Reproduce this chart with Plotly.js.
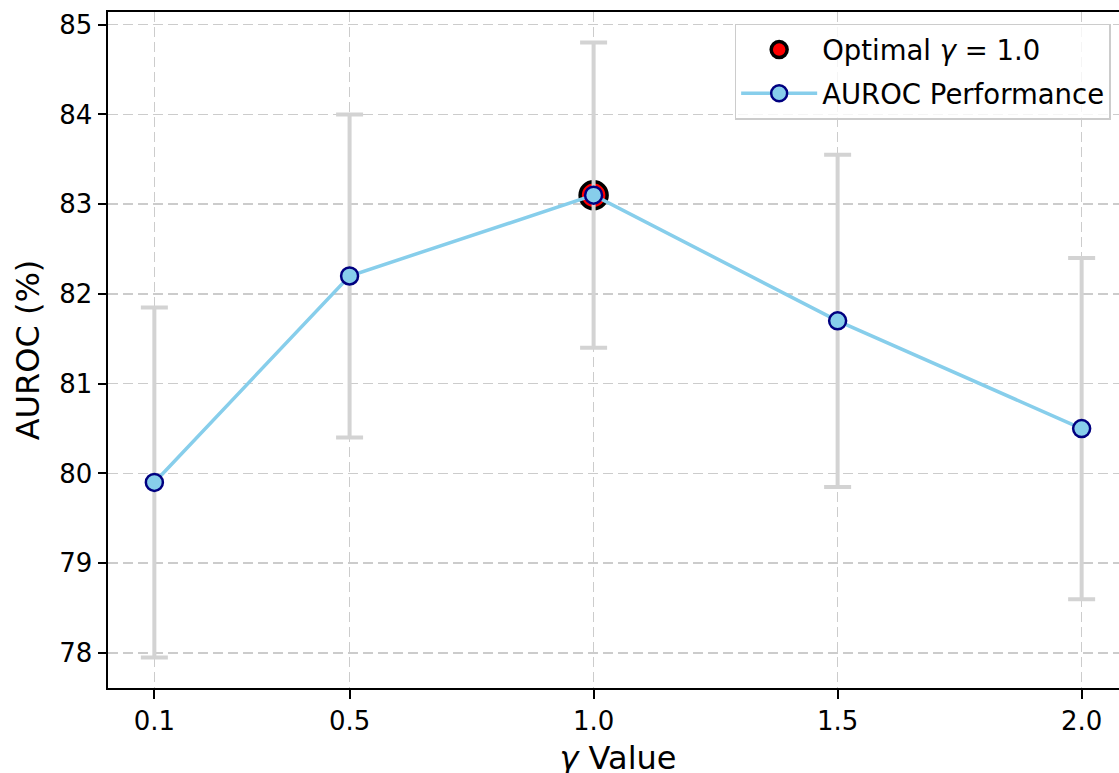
<!DOCTYPE html>
<html>
<head>
<meta charset="utf-8">
<script src="https://cdn.plot.ly/plotly-3.0.1.min.js"></script>
<style>
html, body { margin: 0; padding: 0; overflow: hidden; background: #fff; }
#chart { width: 1140px; height: 790px; }
</style>
</head>
<body>
<div id="chart"></div>
<script>
// Data
const gammaValues = [0.1, 0.5, 1.0, 1.5, 2.0];
const gammaLabels = ["0.1", "0.5", "1.0", "1.5", "2.0"];
const aurocMean = [79.9, 82.2, 83.1, 81.7, 80.5];
const aurocStd = [1.95, 1.8, 1.7, 1.85, 1.9];
const optimalGamma = [1.0];
const optimalAuroc = [83.1];
const yTicks = [78, 79, 80, 81, 82, 83, 84, 85];

const FONT = "DejaVu Sans, Verdana, sans-serif";

const traceOptimal = {
  x: optimalGamma,
  y: optimalAuroc,
  type: "scatter",
  mode: "markers",
  name: "Optimal <i>γ</i> = 1.0",
  legendgroup: "a",
  marker: { color: "red", size: 27, line: { color: "black", width: 3.5 } },
  hoverinfo: "x+y"
};

const traceAuroc = {
  x: gammaValues,
  y: aurocMean,
  type: "scatter",
  mode: "lines+markers",
  name: "AUROC Performance",
  legendgroup: "b",
  line: { color: "#87CEEB", width: 3.5 },
  marker: { color: "#87CEEB", size: 17, line: { color: "#000080", width: 2.5 } },
  error_y: { type: "data", array: aurocStd, visible: true, color: "#d3d3d3", thickness: 4, width: 13.5 }
};

const gridStyle = { showgrid: true, gridcolor: "#cccccc", gridwidth: 1.5, griddash: "10px,5px" };

const layout = {
  width: 1140,
  height: 790,
  margin: { l: 107.6, r: 11.6, t: 12.3, b: 101.7, pad: 0 },
  paper_bgcolor: "white",
  plot_bgcolor: "white",
  font: { family: FONT, color: "black", size: 26 },
  showlegend: true,
  legend: {
    x: 0.983, xanchor: "right",
    y: 0.9827, yanchor: "top",
    bgcolor: "rgba(255,255,255,0.8)",
    bordercolor: "#cccccc",
    borderwidth: 1.5,
    font: { family: FONT, size: 27.5, color: "black" },
    traceorder: "grouped",
    tracegroupgap: 5,
    itemwidth: 76
  },
  xaxis: Object.assign({
    range: [0.005, 2.095],
    tickmode: "array",
    tickvals: gammaValues,
    ticktext: gammaLabels,
    ticks: "outside", ticklen: 8.5, tickwidth: 2, tickcolor: "black",
    showline: true, linecolor: "black", linewidth: 2, mirror: true,
    zeroline: false,
    tickfont: { family: FONT, size: 26, color: "black" },
    title: { text: "<i>γ</i> Value", font: { family: FONT, size: 32, color: "black" }, standoff: 12 },
    automargin: false
  }, gridStyle),
  yaxis: Object.assign({
    range: [77.61, 85.141],
    tickmode: "array",
    tickvals: yTicks,
    ticktext: yTicks.map(String),
    ticks: "outside", ticklen: 8.5, tickwidth: 2, tickcolor: "black",
    showline: true, linecolor: "black", linewidth: 2, mirror: true,
    zeroline: false,
    tickfont: { family: FONT, size: 26, color: "black" },
    title: { text: "AUROC (%)", font: { family: FONT, size: 32, color: "black" }, standoff: 10 },
    automargin: false
  }, gridStyle)
};

Plotly.newPlot("chart", [traceOptimal, traceAuroc], layout, { displayModeBar: false, staticPlot: true });
</script>
</body>
</html>
